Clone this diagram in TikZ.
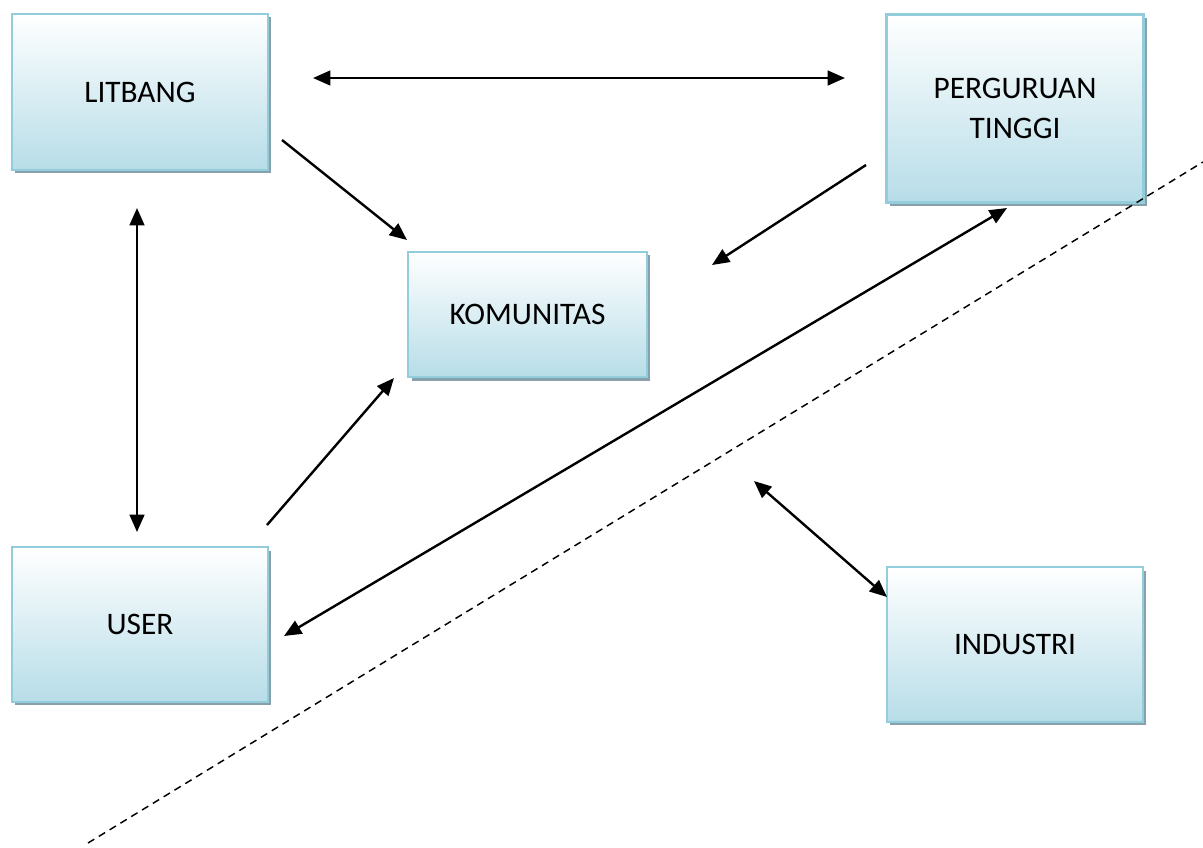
\documentclass[tikz,border=0pt]{standalone}
\usepackage{fontspec}
\setmainfont{Carlito}
\usetikzlibrary{arrows.meta,shadows}
\definecolor{boxblue}{RGB}{183,221,232}
\definecolor{boxline}{RGB}{146,205,220}
\definecolor{shadowgray}{RGB}{135,160,170}
\tikzset{
  unit/.style={x=0.75pt,y=-0.75pt},
  entity/.style={rectangle, draw=boxline, line width=1.8pt,
    top color=white, bottom color=boxblue, middle color=boxblue!50!white,
    general shadow={fill=shadowgray, shadow xshift=2.6pt, shadow yshift=-2.6pt},
    font=\fontsize{23.5}{30}\selectfont, align=center, inner sep=0pt},
  tip/.style={Triangle[length=13pt,width=11pt]},
  link/.style={line width=1.8pt, -{Triangle[length=13pt,width=11pt]}},
  duplex/.style={line width=1.8pt, {Triangle[length=13pt,width=11pt]}-{Triangle[length=13pt,width=11pt]}},
  border/.style={line width=1.1pt, dash pattern=on 5.5pt off 4pt}
}
\begin{document}
\begin{tikzpicture}[unit]
\useasboundingbox (0,0) rectangle (1203,847);

% organisations
\node[entity, minimum width=192pt, minimum height=117pt] (litbang) at (140,92) {LITBANG};
\node[entity, minimum width=193pt, minimum height=141pt] (pt) at (1015,108.5) {PERGURUAN\\TINGGI};
\node[entity, minimum width=179pt, minimum height=94pt] (kom) at (527.5,314.5) {KOMUNITAS};
\node[entity, minimum width=192pt, minimum height=116pt] (user) at (140,624.5) {USER};
\node[entity, minimum width=192pt, minimum height=116pt] (ind) at (1015,644.5) {INDUSTRI};

% connector end points
\coordinate (lpA) at (313,78);
\coordinate (lpB) at (845,78);
\coordinate (lkA) at (282,140);
\coordinate (lkB) at (407,240);
\coordinate (pkA) at (866,165);
\coordinate (pkB) at (712,265);
\coordinate (luA) at (137,208);
\coordinate (luB) at (137,532);
\coordinate (ukA) at (267,525);
\coordinate (ukB) at (394,378);
\coordinate (upA) at (284,636);
\coordinate (upB) at (1007,208);
\coordinate (inA) at (754,481);
\coordinate (inB) at (887,597);
\coordinate (bdA) at (88,843);
\coordinate (bdB) at (1203,162);

% relations
\draw[duplex] (lpA) -- (lpB);
\draw[link] (lkA) -- (lkB);
\draw[link] (pkA) -- (pkB);
\draw[duplex] (luA) -- (luB);
\draw[link] (ukA) -- (ukB);
\draw[duplex] (upA) -- (upB);
\draw[duplex] (inA) -- (inB);
\draw[border] (bdA) -- (bdB);
\end{tikzpicture}
\end{document}
